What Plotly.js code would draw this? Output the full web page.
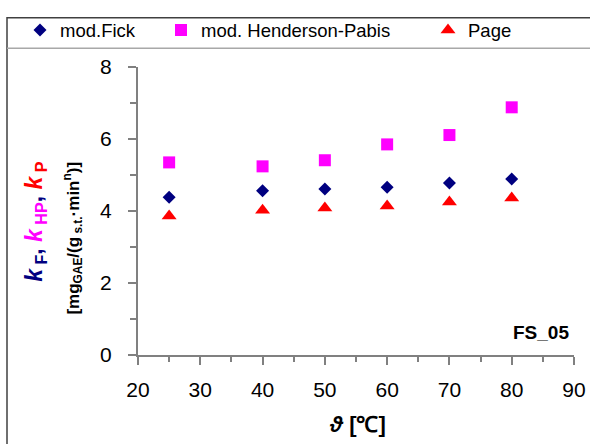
<!DOCTYPE html>
<html>
<head>
<meta charset="utf-8">
<script src="https://cdn.plot.ly/plotly-3.0.1.min.js"></script>
<style>html,body{margin:0;padding:0;background:#fff;}#chart{width:590px;height:444px;}</style>
</head>
<body>
<div id="chart"></div>
<script>
var temperature = [25, 40, 50, 60, 70, 80];
var kFick = [4.38, 4.56, 4.61, 4.66, 4.78, 4.89];
var kHendersonPabis = [5.35, 5.24, 5.41, 5.85, 6.11, 6.88];
var kPage = [3.86, 4.02, 4.08, 4.14, 4.25, 4.36];
var seriesNames = ["mod.Fick", "mod. Henderson-Pabis", "Page"];
var xTicks = [20, 30, 40, 50, 60, 70, 80, 90];
var yTicks = [0, 2, 4, 6, 8];

var font = "Liberation Sans, Arial, sans-serif";
var L = 138, R = 574, T = 63, B = 355;
function px(x){ return (x - L) / (R - L); }
function py(y){ return (B - y) / (B - T); }

var traces = [
  {x: temperature, y: kFick, name: seriesNames[0], type: "scatter", mode: "markers",
   marker: {symbol: "diamond", size: 10, color: "#000080"}, legend: "legend", cliponaxis: false},
  {x: temperature, y: kHendersonPabis, name: seriesNames[1], type: "scatter", mode: "markers",
   marker: {symbol: "square", size: 12, color: "#FF00FF"}, legend: "legend2", cliponaxis: false},
  {x: temperature, y: kPage, name: seriesNames[2], type: "scatter", mode: "markers",
   marker: {symbol: "triangle-up", size: 13, color: "#FF0000"}, legend: "legend3", cliponaxis: false}
];

function leg(xp){
  return {x: px(xp), y: py(26), xanchor: "left", yanchor: "middle", orientation: "h",
          bgcolor: "rgba(0,0,0,0)", borderwidth: 0, font: {family: font, size: 18.5, color: "#000"}};
}

var layout = {
  width: 590, height: 444,
  margin: {l: L, r: 590 - R, t: T, b: 444 - B, pad: 0},
  paper_bgcolor: "#fff", plot_bgcolor: "#fff",
  showlegend: true,
  legend: leg(20), legend2: leg(161), legend3: leg(428),
  xaxis: {
    range: [20, 90], tickvals: xTicks, ticktext: xTicks.map(String),
    showgrid: false, zeroline: false, showline: true, linecolor: "#808080", linewidth: 2,
    ticks: "outside", ticklen: 8, tickwidth: 2, tickcolor: "#808080",
    minor: {ticks: "outside", ticklen: 5, tickwidth: 2, tickcolor: "#808080", dtick: 5, showgrid: false},
    tickfont: {family: font, size: 21, color: "#000"}, ticklabelstandoff: 7
  },
  yaxis: {
    range: [0, 8], tickvals: yTicks, ticktext: yTicks.map(String),
    showgrid: false, zeroline: false, showline: true, linecolor: "#808080", linewidth: 2,
    ticks: "outside", ticklen: 8, tickwidth: 2, tickcolor: "#808080",
    minor: {ticks: "outside", ticklen: 6, tickwidth: 2, tickcolor: "#808080", dtick: 1, showgrid: false},
    tickfont: {family: font, size: 21, color: "#000"}, ticklabelstandoff: 12
  },
  shapes: [
    {type: "rect", xref: "paper", yref: "paper", x0: px(7), x1: px(600), y0: py(460), y1: py(13),
     line: {color: "#404040", width: 1.5}, fillcolor: "rgba(0,0,0,0)"},
    {type: "line", xref: "paper", yref: "paper", x0: px(7), x1: px(600), y0: py(44), y1: py(44),
     line: {color: "#a8a8a8", width: 1.5}}
  ],
  annotations: [
    {xref: "paper", yref: "paper", x: px(36), y: py(220), textangle: -90, showarrow: false,
     xanchor: "center", yanchor: "middle",
     text: "<b><span style='color:#000080'><i>k</i><sub> F</sub></span><span style='color:#000080'>, </span><span style='color:#FF00FF'><i>k</i><sub> HP</sub></span><span style='color:#000080'>, </span><span style='color:#FF0000'><i>k</i><sub> P</sub></span></b>",
     font: {family: font, size: 23}},
    {xref: "paper", yref: "paper", x: px(73), y: py(237), textangle: -90, showarrow: false,
     xanchor: "center", yanchor: "middle",
     text: "<b>[mg<sub>GAE</sub>/(g<sub> s.t.</sub>·min<sup>n</sup>)]</b>",
     font: {family: font, size: 17, color: "#000"}},
    {xref: "paper", yref: "paper", x: px(541), y: py(332), showarrow: false,
     xanchor: "center", yanchor: "middle", text: "<b>FS_05</b>",
     font: {family: font, size: 19, color: "#000"}},
    {xref: "paper", yref: "paper", x: px(357), y: py(425), showarrow: false,
     xanchor: "center", yanchor: "middle", text: "<b><i>ϑ</i> [℃]</b>",
     font: {family: font, size: 22, color: "#000"}}
  ]
};

Plotly.newPlot("chart", traces, layout, {displayModeBar: false, staticPlot: true});
</script>
</body>
</html>
